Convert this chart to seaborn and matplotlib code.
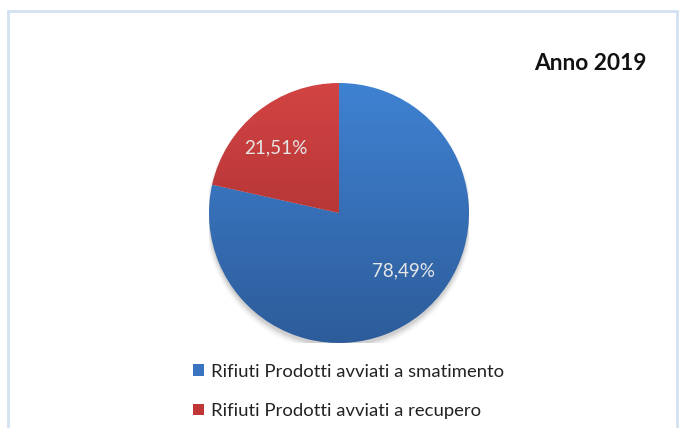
import numpy as np
import matplotlib
matplotlib.use("Agg")
import matplotlib.pyplot as plt
import seaborn as sns
from matplotlib.colors import LinearSegmentedColormap
from matplotlib.patches import Rectangle, Circle

sns.set_theme(style="white")
plt.rcParams["font.family"] = ["Lato", "DejaVu Sans"]

# Data
categories = ["Rifiuti Prodotti avviati a smatimento",
              "Rifiuti Prodotti avviati a recupero"]
shares = [78.49, 21.51]
title = "Anno 2019"

# Per-slice gradient (top colour, bottom colour) and legend swatch colour
tops = ["#3f82d2", "#d34444"]
bottoms = ["#2d5c9a", "#9c2a2a"]
swatches = ["#3a73bf", "#c03636"]

# Label placement: (radial fraction, angular nudge in degrees)
label_place = [(0.67, 9.5), (0.70, 5.3)]

W, H = 683, 428
fig = plt.figure(figsize=(W / 100, H / 100), dpi=100)
fig.patch.set_facecolor("white")

# Light frame around the chart area
frame = Rectangle((8 / W, -0.05), (677 - 8) / W, (H - 11) / H + 0.05,
                  transform=fig.transFigure, fill=False,
                  edgecolor="#d4e1f1", linewidth=2.0)
fig.add_artist(frame)

cx, cy, r = 339, 213, 130
ax = fig.add_axes([(cx - r) / W, (H - cy - r) / H, 2 * r / W, 2 * r / H])

# Soft drop shadow under the pie
for i, a in enumerate(np.linspace(0.05, 0.012, 6)):
    ax.add_patch(Circle((0, -0.025 - 0.004 * i), 1.0 + 0.006 * i,
                        facecolor="#000000", alpha=a, edgecolor="none",
                        zorder=0))

wedges, texts, autotexts = ax.pie(
    shares, startangle=90, counterclock=False, radius=1.0,
    autopct=lambda p: f"{p:.2f}%".replace(".", ","),
    pctdistance=0.68, colors=swatches,
    wedgeprops=dict(linewidth=0, edgecolor="none"),
    textprops=dict(color="#e6e6e6", fontsize=13.6))

# Vertical gradient fill clipped to each wedge
grad = np.linspace(0, 1, 256).reshape(-1, 1)
for w, t, b in zip(wedges, tops, bottoms):
    cmap = LinearSegmentedColormap.from_list("g", [t, b])
    im = ax.imshow(grad, cmap=cmap, extent=[-1, 1, -1, 1], origin="upper",
                   aspect="auto", zorder=1.5)
    im.set_clip_path(w)
    w.set_facecolor("none")

for w, at, (dist, nudge) in zip(wedges, autotexts, label_place):
    ang = np.deg2rad((w.theta1 + w.theta2) / 2 + nudge)
    at.set_position((dist * np.cos(ang), dist * np.sin(ang)))
    at.set_zorder(3)

ax.set_xlim(-1, 1)
ax.set_ylim(-1, 1)
ax.set_aspect("equal")
ax.axis("off")

fig.text(647 / W, 1 - 63 / H, title, ha="right", va="center",
         fontsize=16.4, fontweight="bold", color="#111111")

fig.legend(wedges, categories, loc="upper left",
           bbox_to_anchor=(176 / W, 1 - 347 / H), frameon=False,
           fontsize=13.3, handlelength=0.6, handleheight=0.6,
           handletextpad=0.4, labelspacing=1.27, labelcolor="#222222")
for h, c in zip(fig.legends[0].legend_handles, swatches):
    h.set_facecolor(c)

fig.savefig("out.png", dpi=100)
